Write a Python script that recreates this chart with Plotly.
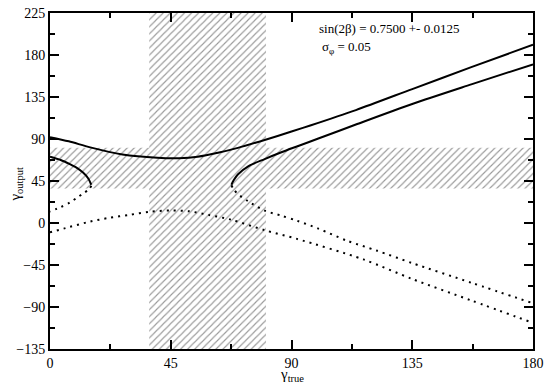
import plotly.graph_objects as go

# hatched constraint band on gamma (same range on both axes)
band_lo = 37.0
band_hi = 80.5
x_range = [0, 180]
y_range = [-135, 225]

# solid branches
a_x = [0, 7, 15, 27, 40, 48, 55, 63, 70, 80, 90, 97, 114, 135, 157, 180]
a_y = [92, 87.5, 81, 73.5, 70, 69.5, 71, 75.5, 80.5, 89, 98, 104.5, 121, 143.5, 167, 191]

b_x = [67.6, 68.5, 70, 74, 80, 86, 92, 100, 114, 135, 157, 180]
b_y = [41, 46, 52, 61, 68.5, 75.5, 82, 90.5, 105.5, 127.5, 148.5, 170]

c_x = [0, 4, 7.4, 10, 12.3, 14.2, 15.4]
c_y = [71, 67.5, 63, 59, 54, 48, 41]

# dotted branches
d1_x = [15.4, 14.5, 12.3, 10, 7.4, 4, 0]
d1_y = [40, 36, 31.5, 27, 22, 17, 12.3]

d2_x = [0, 7, 14.8, 22, 29.5, 37, 45, 52, 59, 67.6, 80, 92, 116.8, 135, 157, 180]
d2_y = [-10, -4.5, 1.4, 5.5, 8.7, 12, 13.5, 12.5, 8.7, 3.5, -7.7, -17, -39, -60, -83, -107]

d3_x = [67.6, 68.5, 70, 74, 80, 86, 92, 100, 110.7, 121.7, 135, 157, 180]
d3_y = [40.5, 36, 31, 23, 13.3, 8, 2.5, -6, -19, -29.5, -43, -64, -86]

FONT = "Liberation Serif, Times New Roman, serif"

fig = go.Figure()

# union of vertical and horizontal bands as one cross-shaped polygon
cross_x = [band_lo, band_hi, band_hi, x_range[1], x_range[1], band_hi, band_hi,
           band_lo, band_lo, x_range[0], x_range[0], band_lo, band_lo]
cross_y = [y_range[0], y_range[0], band_lo, band_lo, band_hi, band_hi, y_range[1],
           y_range[1], band_hi, band_hi, band_lo, band_lo, y_range[0]]
fig.add_trace(go.Scatter(
    x=cross_x, y=cross_y, mode="lines", fill="toself",
    fillcolor="rgba(0,0,0,0)", line=dict(width=0),
    fillpattern=dict(shape="/", fgcolor="#333333", size=5, solidity=0.22),
    hoverinfo="skip",
))

for xs, ys in [(a_x, a_y), (b_x, b_y), (c_x, c_y)]:
    fig.add_trace(go.Scatter(x=xs, y=ys, mode="lines",
                             line=dict(color="black", width=2, shape="spline", smoothing=0.8)))

for xs, ys in [(d1_x, d1_y), (d2_x, d2_y), (d3_x, d3_y)]:
    fig.add_trace(go.Scatter(x=xs, y=ys, mode="lines",
                             line=dict(color="black", width=2, dash="2px,5px",
                                       shape="spline", smoothing=0.8)))

axis_common = dict(
    showgrid=False, zeroline=False, showline=True, linecolor="black", linewidth=2,
    mirror="ticks", ticks="inside", ticklen=9, tickwidth=1.5, tickcolor="black",
    tickfont=dict(family=FONT, size=14, color="black"),
    minor=dict(ticks="inside", ticklen=5, tickwidth=1.5, tickcolor="black", dtick=22.5),
)

fig.update_xaxes(range=x_range, dtick=45, tick0=0, **axis_common)
fig.update_yaxes(range=y_range, dtick=45, tick0=0, **axis_common)

fig.add_annotation(x=99.5, y=208, text="sin(2β) = 0.7500 +- 0.0125", showarrow=False,
                   xanchor="left", yanchor="middle", font=dict(family=FONT, size=13, color="black"))
fig.add_annotation(x=100.5, y=188, text="σ<sub>φ</sub> = 0.05", showarrow=False,
                   xanchor="left", yanchor="middle", font=dict(family=FONT, size=13, color="black"))

fig.add_annotation(xref="paper", yref="paper", x=0.5, y=-0.076, text="γ<sub>true</sub>",
                   showarrow=False, xanchor="center", yanchor="middle",
                   font=dict(family=FONT, size=15, color="black"))
fig.add_annotation(xref="paper", yref="paper", x=-0.07, y=0.49, text="γ<sub>output</sub>",
                   showarrow=False, textangle=-90, xanchor="center", yanchor="middle",
                   font=dict(family=FONT, size=15, color="black"))

fig.update_layout(
    width=550, height=382,
    margin=dict(l=50, r=12, t=6, b=33),
    paper_bgcolor="white", plot_bgcolor="white",
    showlegend=False,
    font=dict(family=FONT, color="black"),
)

# drop the browser's default body margin so the figure sits at the page corner
fig.write_html("out.html", config={"displayModeBar": False},
               post_script="document.body.style.margin='0';")
